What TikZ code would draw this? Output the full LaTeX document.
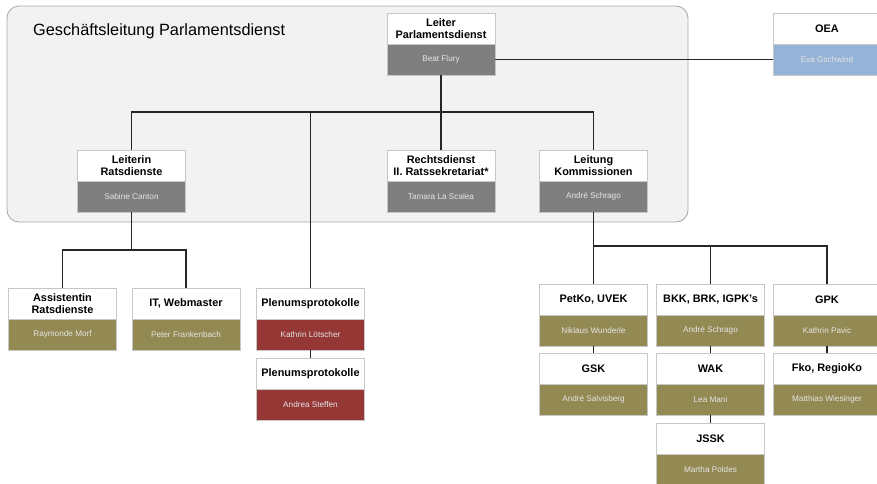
\documentclass[tikz,border=0pt]{standalone}
\usepackage{fontspec}
\setmainfont{Liberation Sans}
\usetikzlibrary{positioning}
\definecolor{grau}{HTML}{7F7F7F}
\definecolor{oliv}{HTML}{938953}
\definecolor{rot}{HTML}{953735}
\definecolor{blau}{HTML}{95B3D7}
\definecolor{hinter}{HTML}{F2F2F2}
\tikzset{
  kopf/.style={draw=black!22, fill=white, minimum width=108pt, minimum height=31pt,
    inner sep=1pt, outer sep=0pt, align=center, font=\bfseries\fontsize{10.9pt}{12.8pt}\selectfont},
  person/.style={draw=black!22, fill=#1, minimum width=108pt, minimum height=31pt,
    inner sep=1pt, outer sep=0pt, text=white!90!black, font=\fontsize{8.2pt}{9.5pt}\selectfont},
  linie/.style={line width=1.3pt, black!85}
}
\begin{document}
\begin{tikzpicture}[x=1pt, y=-1pt]
        \useasboundingbox (0,0) rectangle (877,483);
        % Geschäftsleitung (Hintergrund)
        \draw[fill=hinter, draw=black!35, line width=0.8pt, rounded corners=12pt] (7,6) rectangle (688,222);
        \node[anchor=base west, inner sep=0pt, font=\fontsize{16.3pt}{19pt}\selectfont] (gl) at (33,35) {Geschäftsleitung Parlamentsdienst};

        % Leitung
        \node[kopf] (lpd) at (441,28.5) {Leiter\\Parlamentsdienst};
        \node[person=grau, below=0pt of lpd] (lpdP) {Beat Flury};
        \node[kopf] (oea) at (827,28.5) {OEA};
        \node[person=blau, below=0pt of oea] (oeaP) {Eva Gschwind};

        % Zweite Ebene
        \node[kopf] (lrd) at (131.5,165.5) {Leiterin\\Ratsdienste};
        \node[person=grau, below=0pt of lrd] (lrdP) {Sabine Canton};
        \node[kopf] (rd) at (441,165.5) {Rechtsdienst\\II. Ratssekretariat*};
        \node[person=grau, below=0pt of rd] (rdP) {Tamara La Scalea};
        \node[kopf] (lk) at (593.5,165.5) {Leitung\\Kommissionen};
        \node[person=grau, below=0pt of lk] (lkP) {André Schrago};

        % Ratsdienste
        \node[kopf] (ard) at (62.5,303.5) {Assistentin\\Ratsdienste};
        \node[person=oliv, below=0pt of ard] (ardP) {Raymonde Morf};
        \node[kopf] (itw) at (186,303.5) {IT, Webmaster};
        \node[person=oliv, below=0pt of itw] (itwP) {Peter Frankenbach};

        % Plenumsprotokolle
        \node[kopf] (pp1) at (310.5,303.5) {Plenumsprotokolle};
        \node[person=rot, below=0pt of pp1] (pp1P) {Kathrin Lötscher};
        \node[kopf, below=8pt of pp1P] (pp2) {Plenumsprotokolle};
        \node[person=rot, below=0pt of pp2] (pp2P) {Andrea Steffen};

        % Kommissionen
        \node[kopf] (petko) at (593.5,299.5) {PetKo, UVEK};
        \node[person=oliv, below=0pt of petko] (petkoP) {Niklaus Wunderle};
        \node[kopf] (bkk) at (710.5,299.5) {BKK, BRK, IGPK’s};
        \node[person=oliv, below=0pt of bkk] (bkkP) {André Schrago};
        \node[kopf] (gpk) at (827,299.5) {GPK};
        \node[person=oliv, below=0pt of gpk] (gpkP) {Kathrin Pavic};
        \node[kopf, below=7pt of petkoP] (gsk) {GSK};
        \node[person=oliv, below=0pt of gsk] (gskP) {André Salvisberg};
        \node[kopf, below=7pt of bkkP] (wak) {WAK};
        \node[person=oliv, below=0pt of wak] (wakP) {Lea Mani};
        \node[kopf, below=7pt of gpkP] (fko) {Fko, RegioKo};
        \node[person=oliv, below=0pt of fko] (fkoP) {Matthias Wiesinger};
        \node[kopf, below=8pt of wakP] (jssk) {JSSK};
        \node[person=oliv, below=0pt of jssk] (jsskP) {Martha Poldes};

        % Verbindungen
        \coordinate (busA) at (0,112);
        \coordinate (busB) at (0,250);
        \coordinate (busC) at (0,246);
        \draw[linie] (lpdP.east) -- (oeaP.west);
        \draw[linie] (lpdP.south) -- (rd.north);
        \draw[linie] (lrd.north) -- (lrd.north |- busA) -| (lk.north);
        \draw[linie] (pp1.north) -- (pp1.north |- busA);
        \draw[linie] (lrdP.south) -- (lrdP.south |- busB);
        \draw[linie] (ard.north) -- (ard.north |- busB) -| (itw.north);
        \draw[linie] (pp1P.south) -- (pp2.north);
        \draw[linie] (lkP.south) -- (petko.north);
        \draw[linie] (petko.north |- busC) -| (gpk.north);
        \draw[linie] (bkk.north) -- (bkk.north |- busC);
        \draw[linie] (petkoP.south) -- (gsk.north);
        \draw[linie] (bkkP.south) -- (wak.north);
        \draw[linie] (gpkP.south) -- (fko.north);
        \draw[linie] (wakP.south) -- (jssk.north);
    \end{tikzpicture}
\end{document}
